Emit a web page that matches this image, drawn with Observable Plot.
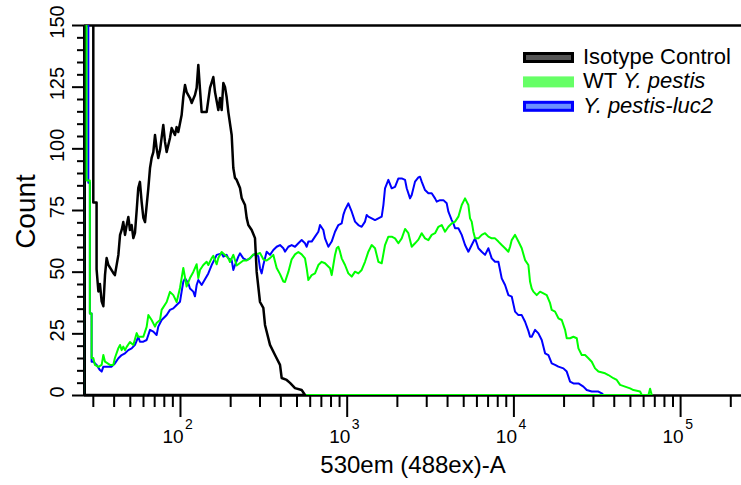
<!DOCTYPE html>
<html>
<head>
<meta charset="utf-8">
<script src="https://cdn.jsdelivr.net/npm/d3@7"></script>
<script src="https://cdn.jsdelivr.net/npm/@observablehq/plot@0.6"></script>
<style>
  body { margin: 0; background: #fff; }
  #wrap { position: relative; width: 741px; height: 485px; overflow: hidden; background: #fff; }
</style>
</head>
<body>
<div id="wrap"></div>
<script>
// ---------- DATA ----------
// Isotype Control (black) — fluorescence (530em) vs count
const isoX = [26.3,30.2,30.2,31.6,31.6,32.4,33.1,33.9,34.7,35.5,36.3,37.2,39.8,40.7,42.7,43.7,44.7,45.7,46.8,47.9,49.0,50.1,51.3,52.5,53.7,55.0,56.2,57.5,58.9,60.3,61.7,64.6,66.1,67.6,69.2,70.8,72.4,74.1,75.9,79.4,81.3,83.2,87.1,89.1,93.3,95.5,97.7,102.3,104.7,107.2,109.6,114.8,117.5,123.0,125.9,128.8,131.8,134.9,144.5,151.4,158.5,162.2,169.8,173.8,177.8,182.0,186.2,190.5,195.0,204.2,208.9,213.8,218.8,229.1,234.4,245.5,251.2,257.0,269.2,281.8,288.4,302.0,316.2,323.6,346.7,371.5,398.1,407.4,436.5,457.1,489.8,537.0,562.3];
const isoCount = [400,400,78,78,51,42,45,38,36,48.6,55.5,52.7,49.5,48.6,56.8,64.9,66.9,70.1,64.9,68.9,72.2,66.9,68.9,63.6,65.7,75,83.9,86.4,78.2,71.8,70.1,83.9,92,96.1,98.5,105.4,100.1,96.1,99.3,109.5,102.6,98.5,104.2,108.2,105.4,108.6,106.6,113.5,120.8,125.7,122.8,120.4,118.4,121.6,124.5,133.8,124,114.7,114.7,124.5,128.9,122.8,115.5,120.4,115.5,126.5,124.9,120.8,114.7,105.4,92,88,87.2,83.9,79.9,77,71.8,68.9,66.9,63.6,49.9,37.7,35.3,28.4,20.3,16.2,12.2,6.9,6.1,4.9,2.8,2,0];

// WT Y. pestis (green)
const wtX = [26.3,27.5,27.5,28.8,28.8,29.5,29.5,30.2,30.9,32.4,33.9,34.7,35.5,38.0,39.8,40.7,42.7,43.7,44.7,45.7,46.8,47.9,50.1,52.5,55.0,56.2,60.3,63.1,64.6,67.6,70.8,72.4,75.9,77.6,83.2,87.1,91.2,95.5,100,104.7,109.6,114.8,120.2,125.9,128.8,131.8,138.0,144.5,147.9,154.9,158.5,166.0,169.8,177.8,186.2,195.0,199.5,208.9,218.8,229.1,239.9,251.2,263.0,275.4,288.4,302.0,316.2,331.1,346.7,363.1,380.2,398.1,416.9,426.6,446.7,467.7,489.8,512.9,537.0,562.3,575.4,588.8,616.6,645.7,676.1,707.9,741.3,794.3,812.8,831.8,851.1,871.0,891.3,912.0,933.3,977.2,1023,1072,1122,1175,1230,1288,1349,1413,1479,1549,1622,1698,1778,1862,1950,2042,2138,2239,2344,2455,2570,2692,2818,2951,3090,3236,3388,3548,3715,3890,4074,4266,4467,4677,4898,5129,5370,5495,5623,5754,5888,6166,6457,6761,7079,7413,7762,8128,8511,8913,9333,9550,9772,10230,10720,11220,11750,12300,12590,12880,13180,13800,14450,15140,15850,16600,16980,17780,18620,19500,20420,20890,21880,22910,23990,24550,25700,26920,28180,29510,30900,32360,35480,37150,39810,41690,43650,46770,50120,52480,57540,58880,64570,66070,67610];
const wtCount = [400,400,87,87,33,33,15,15,12.2,11.4,12.2,16.2,13.5,12.2,12.2,15,19,20.3,18.2,19.6,18.2,19.5,21.5,20.3,25.1,23.6,23.6,27.6,32.4,30.4,27.7,29.2,30.4,34.5,37.7,41.8,40.5,37.7,43.4,51.5,44,47.4,49.9,53,47.4,50.7,52.7,54,52.7,55.5,56.4,53,55.5,58,56.8,55.5,53.9,56.8,52.5,53.5,54.5,54.5,55.5,57,57,57.6,55,54.5,55.5,56.8,51.5,49,46,45.8,49.9,55,57,58,57,55.4,51.4,46.6,48.6,49.3,52.7,54,53.4,51.4,48.6,52.7,56.8,59.5,60.1,58.1,55.4,52.7,49.3,48,50,49.3,50.7,54,58.1,60.8,59.5,54,53.4,60.8,64.2,64.2,63.5,61.5,63.5,67.3,65.6,60.1,61.5,63,65.6,63.5,62.8,64.9,65.6,68.2,68.9,66.2,68.2,69.6,70.3,72.3,77,79.7,77,71.6,70.3,66.2,63.5,63.5,64.9,65.6,64.2,63.5,63.5,62.2,60.8,59.5,58.1,60.1,62.8,64.9,62.2,59.5,54.7,52.7,45.9,43.2,41.9,40.5,41.9,41.2,40.5,37.2,34.5,33.8,31.1,30.4,26.4,23,23,23.6,23,18.9,16.2,16.2,14.9,13.5,10.8,9.5,8.8,8.1,6.8,6.1,4.1,3.4,2.7,2,1.4,0,0,2.5,0];

// Y. pestis-luc2 (blue)
const lucX = [26.3,28.2,28.2,28.8,28.8,29.5,29.5,30.2,31.6,33.1,33.9,34.7,36.3,38.9,40.7,42.7,44.7,46.8,49.0,51.3,53.7,56.2,57.5,60.3,63.1,66.1,69.2,72.4,74.1,77.6,83.2,87.1,91.2,95.5,100,102.3,104.7,107.2,112.2,114.8,120.2,123.0,125.9,128.8,134.9,147.9,154.9,162.2,166.0,177.8,182.0,190.5,195.0,204.2,208.9,213.8,223.9,229.1,239.9,251.2,263.0,275.4,288.4,295.1,302.0,309.0,316.2,323.6,331.1,346.7,363.1,380.2,398.1,416.9,426.6,446.7,467.7,489.8,512.9,537.0,562.3,575.4,588.8,616.6,645.7,676.1,691.8,724.4,741.3,776.2,812.8,851.1,891.3,933.3,955.0,977.2,1023,1072,1122,1175,1230,1288,1318,1349,1413,1479,1549,1622,1660,1698,1778,1862,1950,2042,2138,2239,2291,2399,2455,2570,2692,2754,2818,2951,3090,3236,3388,3467,3631,3802,3981,4074,4266,4365,4467,4677,4898,5129,5370,5623,5888,6026,6166,6457,6761,7079,7413,7762,8128,8511,8913,9333,9772,10230,10720,11220,11750,12300,12590,12880,13490,14130,14790,15490,16220,16980,17780,18620,19950,20890,21880,22910,24550,26300,27540,29510,32360,33880,34670];
const lucCount = [400,400,86,86,33,33,13.5,13.5,12.2,10.1,9.5,11.5,11.5,11.5,12.8,14.9,16.2,16.9,18.2,18.9,20.3,23.6,21.6,21.6,22.3,26.4,25.7,24.3,27.7,30.4,32.4,34.5,35.1,36.5,37.8,41.9,45.9,47.3,45.3,43.2,41.9,40,44.6,46.6,44.6,49.3,52.7,55.4,56.8,57.4,56.1,56.8,55.4,54.7,50.7,52.7,56.1,57.4,55.4,54.7,55.4,56.8,57.4,56.1,51.4,49.3,52.7,55.4,58.1,56.8,58.8,60.1,60.8,59.5,58.1,60.1,60.8,60.1,61.5,62.8,61.5,60.1,62.2,62.2,64.2,66.2,68.9,66.9,63.5,60.1,62.2,66.2,68.9,69.6,73,75,77.7,74.3,70.3,68.9,68.2,70.3,73,72.3,71.6,70.9,71.6,72.3,77,83.8,87.2,83.8,84.4,87.8,87.8,87.2,83.8,79.7,81.1,86.5,88.2,88.5,86.5,83.1,81.8,81.8,79.7,78.4,79,79,77.7,74.3,70.9,69.6,67.6,67.6,64.9,60.8,58.1,60.8,63.5,61.5,59.5,58.1,56.8,59.5,55.4,54,54,47.3,44.6,40.5,39.9,33.8,32.4,32.4,29.7,26,23.6,23.6,26.4,25,22.3,16.9,16.2,12.8,12.2,11.5,10.8,9.5,5.4,4.7,4.7,3.4,2,1.4,1.4,0.7,0];

// Axis ticks and labels
const xDomain = [26.56, 231900];
const xMajor = [100, 1000, 10000, 100000];
const xMinor = [30,40,50,60,70,80,90,200,300,400,500,600,700,800,900,2000,3000,4000,5000,6000,7000,8000,9000,20000,30000,40000,50000,60000,70000,80000,90000,200000];
const xBase = ["10","10","10","10"];
const xExponent = ["2","3","4","5"];
const yMajor = [0,25,50,75,100,125,150];
const yMinor = [5,10,15,20,30,35,40,45,55,60,65,70,80,85,90,95,105,110,115,120,130,135,140,145];
const xTitle = "530em (488ex)-A";
const yTitle = "Count";

// Legend
const legendNames = ["Isotype Control", "WT ", ""];
const legendItalic = ["", "Y. pestis", "Y. pestis-luc2"];
const legendFill = ["#555555", "#66ff66", "#6b8fff"];
const legendStroke = ["#000000", "#66ff66", "#0000ff"];

// ---------- BUILD ----------
const font = "'Liberation Sans', Arial, Helvetica, sans-serif";
const iso = isoX.map((x, i) => ({x, y: isoCount[i]}));
const wt = wtX.map((x, i) => ({x, y: wtCount[i]}));
const luc = lucX.map((x, i) => ({x, y: lucCount[i]}));

const chart = Plot.plot({
  width: 741,
  height: 485,
  marginLeft: 84,
  marginRight: 0,
  marginTop: 25,
  marginBottom: 90,
  x: {type: "log", domain: xDomain, axis: null},
  y: {domain: [0, 150], axis: null},
  style: {fontFamily: font, background: "#fff", color: "#000", overflow: "visible"},
  marks: [
    Plot.ruleY([150], {stroke: "#000", strokeWidth: 2.5}),
    Plot.ruleY([0], {stroke: "#000", strokeWidth: 2.5}),
    Plot.ruleX([xDomain[0]], {stroke: "#000", strokeWidth: 3}),
    Plot.axisY(yMinor, {anchor: "left", tickSize: 7, tickFormat: () => "", strokeWidth: 2, label: null}),
    Plot.axisY(yMajor, {anchor: "left", tickSize: 12, tickFormat: () => "", strokeWidth: 2, label: null}),
    Plot.axisX(xMinor, {anchor: "bottom", tickSize: 12, tickFormat: () => "", strokeWidth: 2, label: null}),
    Plot.axisX(xMajor, {anchor: "bottom", tickSize: 22, tickFormat: () => "", strokeWidth: 2, label: null}),
    Plot.area(luc, {x1: "x", y1: 0, y2: "y", fill: "none", stroke: "#0000ff", strokeWidth: 2, clip: true}),
    Plot.area(wt, {x1: "x", y1: 0, y2: "y", fill: "none", stroke: "#00ff00", strokeWidth: 2, clip: true}),
    Plot.area(iso, {x1: "x", y1: 0, y2: "y", fill: "none", stroke: "#000000", strokeWidth: 2.5, clip: true}),
    // y tick labels
    Plot.text(yMajor, {frameAnchor: "left", y: d => d, text: d => String(d), rotate: -90,
      textAnchor: "middle", lineAnchor: "middle", dx: -26.5, dy: -3.5, fontSize: 20, ariaLabel: "ytick-label"}),
    // x tick labels: base and exponent
    Plot.text(xMajor, {frameAnchor: "bottom", x: d => d, text: (d, i) => xBase[i], textAnchor: "middle",
      lineAnchor: "bottom", dx: -7.5, dy: 47, fontSize: 19}),
    Plot.text(xMajor, {frameAnchor: "bottom", x: d => d, text: (d, i) => xExponent[i], textAnchor: "middle",
      lineAnchor: "bottom", dx: 8.5, dy: 33, fontSize: 14}),
    // axis titles
    Plot.text([yTitle], {frameAnchor: "left", text: d => d, rotate: -90, textAnchor: "middle",
      lineAnchor: "middle", dx: -58, dy: 1, fontSize: 28}),
    Plot.text([xTitle], {frameAnchor: "bottom", text: d => d, textAnchor: "middle",
      lineAnchor: "bottom", dy: 77, fontSize: 24, ariaLabel: "x-title"})
  ]
});

const wrap = document.getElementById("wrap");
wrap.appendChild(chart);

// compress the y tick labels along their reading direction, stretch x title, as in the original
chart.querySelectorAll('g[aria-label="ytick-label"] text').forEach(t => {
  const L = t.getComputedTextLength();
  t.setAttribute("textLength", (L * 0.66).toFixed(1));
  t.setAttribute("lengthAdjust", "spacingAndGlyphs");
});
chart.querySelectorAll('g[aria-label="x-title"] text').forEach(t => {
  t.setAttribute("textLength", "212");
  t.setAttribute("lengthAdjust", "spacingAndGlyphs");
});

// legend overlay
const leg = d3.create("svg")
  .attr("width", 741).attr("height", 485)
  .style("position", "absolute").style("left", "0px").style("top", "0px")
  .style("font-family", font).style("pointer-events", "none");
legendNames.forEach((name, i) => {
  const top = 52 + i * 24.4;
  leg.append("rect")
    .attr("x", 524.5).attr("y", top + 1.5).attr("width", 48).attr("height", 8)
    .attr("fill", legendFill[i]).attr("stroke", legendStroke[i]).attr("stroke-width", 3);
  const t = leg.append("text").attr("x", 583).attr("y", top + 12).attr("font-size", 22).attr("fill", "#000");
  if (name) t.append("tspan").text(name);
  if (legendItalic[i]) t.append("tspan").attr("font-style", "italic").text(legendItalic[i]);
});
wrap.appendChild(leg.node());
</script>
</body>
</html>
